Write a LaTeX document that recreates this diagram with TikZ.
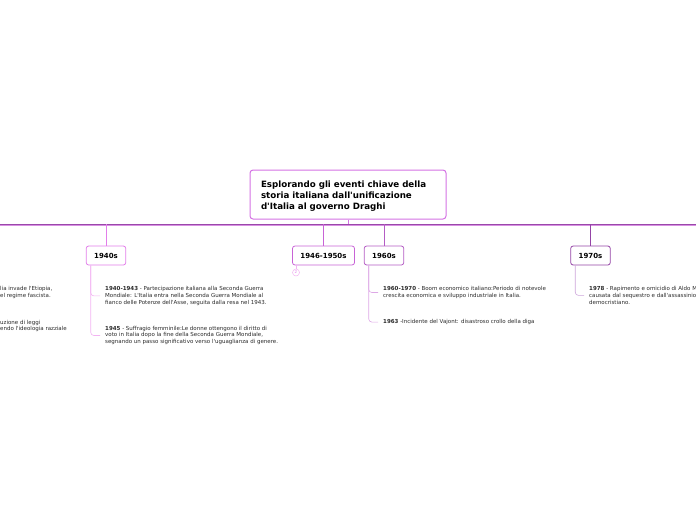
\documentclass[tikz,border=0pt]{standalone}
\usepackage{fontspec}
\setmainfont{DejaVu Sans}[Ligatures=TeXOff]
\usetikzlibrary{positioning}

\definecolor{axisdark}{HTML}{9A48AA}
\definecolor{axislight}{HTML}{D890E2}
\definecolor{rootpink}{HTML}{D472E4}
\definecolor{pinkA}{HTML}{E27EEA}
\definecolor{pinkB}{HTML}{C863D6}
\definecolor{pinkC}{HTML}{B45CC4}
\definecolor{pinkD}{HTML}{9444A6}
\definecolor{twigA}{HTML}{F2B4F2}
\definecolor{twigC}{HTML}{DDA8E6}
\definecolor{twigD}{HTML}{CCA4DA}
\definecolor{evtext}{HTML}{2A2A2A}

\tikzset{
  decade/.style={draw, fill=white, rounded corners=2.5pt, line width=0.8pt,
    inner xsep=8pt, inner ysep=0pt, minimum height=19pt,
    font=\bfseries\fontsize{7}{8}\selectfont},
  event/.style={anchor=north west, align=left, inner sep=0pt, text=evtext,
    font=\fontsize{5.5}{6.8}\selectfont},
  stem/.style={line width=0.8pt},
  twig/.style={line width=0.6pt, rounded corners=3pt},
}

\begin{document}
\begin{tikzpicture}[x=1pt, y=-1pt]
    \useasboundingbox (0,0) rectangle (696,520);
    \clip (0,0) rectangle (696,520);
    % --- TITLE AND AXIS ---
    \node[draw=rootpink, line width=1pt, rounded corners=3pt, fill=white,
      minimum width=196pt, minimum height=49pt, text width=174pt, align=left,
      font=\bfseries\fontsize{8.7}{11}\selectfont] (root) at (348,194.5)
      {\rule{0pt}{10.8pt}Esplorando gli eventi chiave della\\storia italiana dall'unificazione\\d'Italia al governo Draghi};
    \coordinate (axisL) at (0,224);
    \coordinate (axisR) at (696,224);
    \draw[axisdark, line width=1pt] (axisL) -- (axisR);
    \draw[axislight, line width=0.5pt] ([yshift=-1.1pt]axisL) -- ([yshift=-1.1pt]axisR);
    \draw[rootpink, stem] (root.south) -- (root.south |- axisL);

    % --- DECADES ---
    \node[decade, draw=pinkA] (d40) at (106,255.5) {1940s};
    \node[decade, draw=pinkB] (d50) at (323.5,255.5) {1946-1950s};
    \node[decade, draw=pinkC] (d60) at (384,255.5) {1960s};
    \node[decade, draw=pinkD] (d70) at (590.5,255.5) {1970s};
    \draw[pinkA, stem] (d40.north) -- (d40.north |- axisL);
    \draw[pinkB, stem] (d50.north) -- (d50.north |- axisL);
    \draw[pinkC, stem] (d60.north) -- (d60.north |- axisL);
    \draw[pinkD, stem] (d70.north) -- (d70.north |- axisL);

    % --- 1940s ---
    \node[event] (e4043) at (105,286.2) {\textbf{1940-1943} - Partecipazione italiana alla Seconda Guerra\\Mondiale: L'Italia entra nella Seconda Guerra Mondiale al\\fianco delle Potenze dell'Asse, seguita dalla resa nel 1943.};
    \node[event] (e45) at (105,325.8) {\textbf{1945} - Suffragio femminile:Le donne ottengono il diritto di\\voto in Italia dopo la fine della Seconda Guerra Mondiale,\\segnando un passo significativo verso l'uguaglianza di genere.};
    \draw[twigA, twig] ([xshift=5pt]d40.south west) |- ([xshift=-5pt]e4043.west);
    \draw[twigA, twig] ([xshift=5pt]d40.south west) |- ([xshift=-5pt]e45.west);

    % --- 1946-1950s (collapsed) ---
    \node[circle, draw=twigA, line width=0.5pt, inner sep=0pt, minimum size=7pt,
      text=pinkA, font=\fontsize{4}{4}\selectfont] (n50) at (296,272.5) {2};
    \draw[twigA, line width=0.5pt] (d50.south -| n50) -- (n50.north);

    % --- 1960s ---
    \node[event] (e6070) at (383,286.2) {\textbf{1960-1970} - Boom economico italiano:Periodo di notevole\\crescita economica e sviluppo industriale in Italia.};
    \node[event] (e63) at (383,319.2) {\textbf{1963} -Incidente del Vajont: disastroso crollo della diga};
    \draw[twigC, twig] ([xshift=5pt]d60.south west) |- ([xshift=-5pt]e6070.west);
    \draw[twigC, twig] ([xshift=5pt]d60.south west) |- ([xshift=-5pt]e63.west);

    % --- 1970s ---
    \node[event] (e78) at (589,286.2) {\textbf{1978} - Rapimento e omicidio di Aldo M\\causata dal sequestro e dall'assassinio\\democristiano.};
    \draw[twigD, twig] ([xshift=5pt]d70.south west) |- ([xshift=-5pt]e78.west);

    % --- cut-off entries on the left ---
    \node[event] (c1) at (0,286.2) {lia invade l'Etiopia,\\el regime fascista.};
    \node[event] (c2) at (0,319.8) {uzione di leggi\\endo l'ideologia razziale};
\end{tikzpicture}
\end{document}
